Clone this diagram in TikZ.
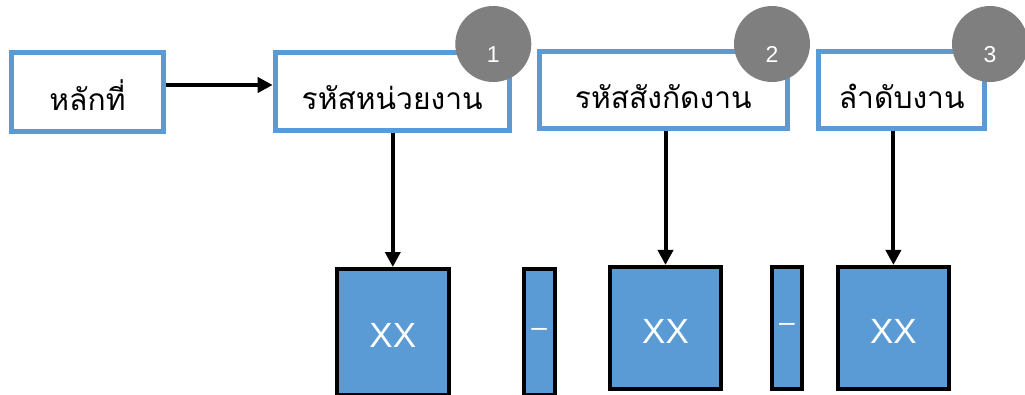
\documentclass[tikz,border=0pt]{standalone}
\usepackage{fontspec}
\setmainfont{Liberation Sans}
\newfontfamily\thaifont[Script=Thai]{Loma}
\usetikzlibrary{arrows.meta}
\definecolor{boxblue}{HTML}{5B9BD5}
\definecolor{badgegray}{HTML}{7F7F7F}
\tikzset{
  fieldbox/.style={draw=boxblue, line width=5pt, fill=white, rectangle,
    inner sep=0pt, text height=40pt, text depth=4pt,
    font=\thaifont\fontsize{30}{30}\selectfont},
  digitbox/.style={draw=black, line width=4pt, fill=boxblue, rectangle,
    inner sep=0pt, text=white, text height=31pt, text depth=0pt,
    font=\fontsize{35}{35}\selectfont},
  sepbox/.style={digitbox, text height=8pt, font=\fontsize{28}{28}\selectfont},
  badge/.style={circle, fill=badgegray, minimum size=76pt, inner sep=0pt,
    text=white, text height=36pt, text depth=0pt,
    font=\fontsize{23}{23}\selectfont},
  arr/.style={line width=4pt, -{Triangle[length=15pt,width=15pt]}},
}
\begin{document}
\begin{tikzpicture}[x=1pt,y=-1pt]
\useasboundingbox (0,0) rectangle (1025,394);

% upper row: field names
\node[fieldbox, minimum width=152pt, minimum height=79pt] (b1) at (87.5,92) {หลักที่};
\node[fieldbox, minimum width=234pt, minimum height=78pt] (b2) at (392.2,91.5) {รหัสหน่วยงาน};
\node[fieldbox, minimum width=248pt, minimum height=76.5pt] (b3) at (663.3,90) {รหัสสังกัดงาน};
\node[fieldbox, minimum width=166pt, minimum height=76.5pt] (b4) at (901.7,90) {ลำดับงาน};

% lower row: code digits and separators
\node[digitbox, minimum width=111.7pt, minimum height=126pt] (x1) at (392.8,332) {XX};
\node[sepbox, minimum width=31pt, minimum height=126pt] (d1) at (539.2,332) {–};
\node[digitbox, minimum width=111pt, minimum height=121.7pt] (x2) at (665.5,327.8) {XX};
\node[sepbox, minimum width=30pt, minimum height=121.7pt] (d2) at (787,327.8) {–};
\node[digitbox, minimum width=111.3pt, minimum height=121.7pt] (x3) at (893.4,327.8) {XX};

% connectors
\draw[arr] ([yshift=7pt]b1.east) -- ([yshift=7pt]b1.east -| b2.west);
\draw[arr] (b2.south -| x1.north) -- (x1.north);
\draw[arr] (b3.south -| x2.north) -- (x2.north);
\draw[arr] (b4.south -| x3.north) -- (x3.north);

% numbered badges
\node[badge] (c1) at (493.3,44) {1};
\node[badge] (c2) at (772,44) {2};
\node[badge] (c3) at (990,44) {3};
\end{tikzpicture}
\end{document}
